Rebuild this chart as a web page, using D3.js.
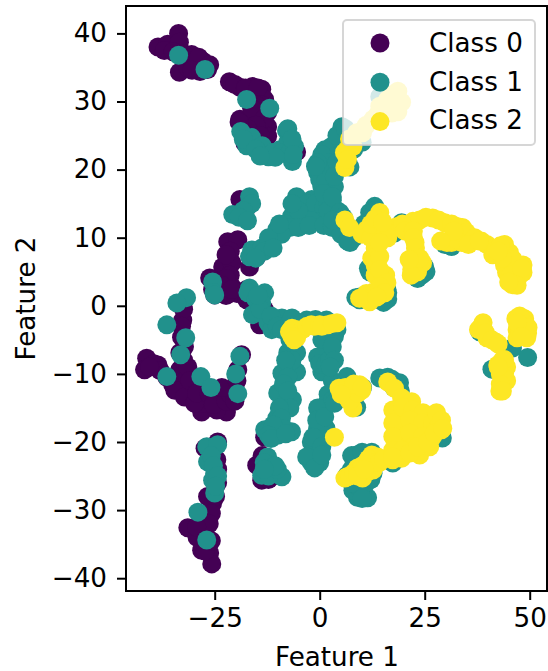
<!DOCTYPE html>
<html><head><meta charset="utf-8">
<script src="https://cdnjs.cloudflare.com/ajax/libs/d3/7.8.5/d3.min.js"></script>
<style>html,body{margin:0;padding:0;background:#fff}svg{display:block}text{font-family:"DejaVu Sans",sans-serif;fill:#000}</style>
</head><body><svg id="c" width="548" height="671"></svg>
<script>
const classNames=["Class 0","Class 1","Class 2"];
const classColors=["#440154","#21918c","#fde725"];
const xTicks=[-25,0,25,50];
const yTicks=[-40,-30,-20,-10,0,10,20,30,40];
const class0=[[-38.5,38],[-36.2,38.4],[-33.6,40],[-33.4,38.7],[-30.5,36.9],[-27.8,35.9],[-26.7,34.7],[-33.4,34.3],[-31.4,35],[-28.5,34.4],
[-37,37.5],[-34.9,37.3],[-32.4,37],[-30.4,36],[-28.8,36.5],[-26.2,35.4],[-30.4,34.6],
[-21.5,32.9],[-19,32.1],[-16,32.2],[-13.8,31.8],[-13.1,30.3],[-12.4,28.4],[-19,27.4],[-16.2,27.8],[-12.4,26.3],[-12.4,24.9],[-16.7,24.6],[-17.8,23.9],[-5.5,22.6],[-14.2,29],
[-20.2,32.5],[-17.7,32],[-14.7,32],[-13.7,29.5],[-15.2,29.5],[-16.2,29],[-13.2,27.5],[-15.2,26.5],[-17.2,26],[-19.2,27],[-14.2,25],[-14.7,24],[-13.2,23.5],
[-19,15.6],[-17.8,13.7],[-21.9,9.4],[-19.5,9.7],[-23.1,5.7],[-20.9,6.3],[-20.9,2.8],[-26.2,4.1],[-25.5,2.4],[-16.7,5.7],[-15,7.2],[-17.4,2.4],
[-21.3,8],[-22.3,7.5],[-21.3,4.5],[-22.3,4],[-23.3,3],[-19.7,1.8],[-22.3,1.5],
[-25,1.6],[-20.9,2.4],[-17.4,0.9],[-14.3,-2.8],[-13.1,-0.6],
[-32.6,-2.1],[-32.9,-4.6],[-33.3,-6.9],[-33.3,-9.4],[-41.2,-7.7],[-41.7,-9.4],[-38.5,-8.7],[-35,-11.6],[-31.7,-12.8],[-28.1,-15.6],[-27.8,-14.3],[-22.2,-15.6],[-24.5,-15.3],[-24.3,-13.4],[-20.2,-11.9],[-18.6,-7.2],[-19.5,-9.4],[-29.2,-13.8],
[-32.4,-0.5],[-32.9,-3],[-32.2,-6],[-32.4,-8],[-32.9,-11],[-31.4,-10.5],[-34.5,-12.4],[-32.2,-13.4],[-29.8,-14.3],[-31.4,-9],[-30.9,-11],[-29.3,-12.8],[-26.3,-13],[-22.8,-13],[-25.3,-14.5],[-22.3,-14],[-21.3,-13],[-23.3,-12],[-20.2,-14],[-19.7,-11],[-39.5,-8.5],[-38,-9.5],[-36.4,-10.5],[-40.5,-9],
[-24.3,-20],[-27.3,-20.9],[-24.5,-22.6],[-25.5,-29],[-26.7,-28],[-27.3,-31],[-31.4,-32.6],[-29.2,-34],[-27.3,-33],[-26.2,-36.3],[-25.7,-37.9],[-28.1,-35.9],
[-24.3,-24],[-24.3,-26],[-24.8,-28],[-25.8,-30.5],[-26.3,-32],[-29.3,-32.5],[-27.3,-34.5],[-27.3,-36],[-25.8,-34.5],
[-15,-23.4],[-13.8,-25.6],[-11.4,-25.1],[-13.1,-19.3],[-13.7,-22],[-13.2,-24.5],[-12.2,-25.5]];
const class1=[[-33.6,36.8],[-27.3,34.7],[-17.4,30.3],[-11.9,29],[-18.8,25.6],[-16.2,24.7],[-17.4,23.5],[-13.1,22.9],[-12.2,21.9],[-7.9,25.7],[-7.6,24],[-6,23.4],[-6.5,21.2],[-9.5,22.9],
[-13.7,23.5],[-11.1,22.5],[-9.1,22.4],[-7.1,22.5],[-7.6,26],[-6.6,24.5],[-6.3,22.2],[-18.2,24.5],[-15.2,23],[-10.6,21.8],[-14.2,22],
[5.3,26.3],[9.5,25.4],[14.3,30.7],[7.2,20.4],[3.5,22.9],[3.5,17.5],[1.2,22.9],[-0.5,19.6],[2.8,23.4],[0.5,22.2],[1.2,20],[3.1,17.5],[0.5,17.5],[0,15.6],[-5.5,16],[-6,14.6],[-2.8,13.7],[0.5,13.1],[-6.7,13.1],[3.5,13.7],[5.3,12.2],[-1.9,15.6],[-10.2,11.2],[-11.4,9.3],[-16.2,8.2],[-13.8,8.5],[-16.7,7.2],[-9,11.6],[-4.3,12.6],
[-3,15],[-4,13.5],[-1,13],[-1,15],[1,14.5],[2,15],[3,15.5],[1.5,13],[4.1,12.5],[-2,12.5],[0,18.5],[1.5,18.5],[2,21],[-0.5,21],[-1,20.5],[4.1,21],[1,16.5],[-8.1,12],[-7.1,11.5],[-9.1,10.5],[-12.2,10],[-13.2,8],[-15.2,7],[-11.1,8.5],[-9.6,12],[-5.1,14],[-6.6,15],[-5.1,11.5],[-2.5,11.8],[1,11.8],[3,12],
[3,11.5],[5.1,10.5],[6.6,9.5],[8.1,10],[4.1,14],[2,14],[3.5,19],[3,16],[5.3,24],[4.1,25],[6.1,26],[10.1,24],[8.1,23],
[-16.7,16],[-17.1,14.6],[-20.7,13.4],[-17.8,13.1],[-16.2,15],[-18.2,14],[-19.2,13],[-17.2,12.5],[-25.5,3.5],[-16.7,2.6],[-13.1,1.9],[-25.2,1.9],
[-31.7,1.2],[-34,0.4],[-25,1.6],[-36.4,-2.8],[-31.9,-4.7],[-33.1,-7.2],[-36.4,-10.4],[-28.3,-10.4],[-25.9,-12],[-19,-7.4],[-20,-10],[-19.5,-12.9],
[-17.1,1.9],[-13.8,0.4],[-16,-1.3],[-12.3,-2.5],[-9,-1.8],[-11.4,-3.5],[-3.1,-2.1],[1.6,-2.1],
[-15.2,1],[-14.2,-0.5],[-14.7,1.5],[-11.6,-1.5],[-10.1,-3],[-9.1,-3.5],[-7.1,-2.5],[-5.1,-2.5],[-1,-2.5],[-7.1,-3],[-5.1,-3.5],[-1,-3],[1,-3.5],[3,-3],[-6.6,-1.8],[-1,-2],
[-7.6,-6.9],[-5.5,-6.9],[-9,-9.9],[-5.5,-9.7],[0.5,-9.7],[1.2,-7.5],[1.9,-6],[-10,-12.8],[-6.5,-13.8],[-8.3,-14.3],[-10.2,-16.5],[-13.1,-18.2],[-6.7,-18.5],[-10,-19],
[-7.1,-5],[-6.6,-8],[-8.1,-8],[-7.6,-10.5],[-8.6,-11.5],[-7.6,-12.5],[-7.1,-15],[-9.6,-15],[-9.1,-16.5],[-8.6,-18],[-11.1,-17.5],[-12.2,-19],[-11.6,-19.5],[-8.1,-18.8],
[0.5,-5],[-0.5,-7.5],[0,-8.5],[1.5,-8.5],[3,-11],[2,-13],[1.5,-14.5],[0,-15.5],[-0.5,-15],[1.5,-18],[-0.5,-18],[-2,-20],[-1.5,-21.5],[-2,-23],[1,-19],[0,-23],
[-12.4,-22.2],[-13.8,-24.9],[-9,-25.1],[-11.4,-23.7],[-12.2,-23.5],[-13.2,-23],[-12.2,-25],[-10.1,-24],[-10.6,-23.5],[-13.2,-24],
[-26.9,-20.7],[-24.3,-20.4],[-26.7,-22.9],[-25,-24.6],[-25.5,-25.6],[-25,-27.5],[-29,-30.3],[-26.9,-34.4],[-25.8,-22],[-25.3,-23.5],[-24.3,-25],[-24.8,-26.5],
[-0.7,-16.8],[-1.6,-19.3],[0.5,-20.7],[-3.1,-22.2],[-1.2,-23.8],[0.5,-21.9],[1.2,-16.3],[3.1,-13.8],[4.3,-12.4],
[13.1,14.6],[11.9,13.7],[7.2,9.3],[4.8,13.7],[3.1,12.6],[19.5,12.2],[17.8,10.7],[11.9,5],[25,5.7],[23.1,4.6],[29.8,9],[31.4,8.7],[9.5,1.3],[16,2.4],
[13.2,14],[10.6,12],[5.6,13],[11.6,5.5],[10.1,1],[8.6,1.2],[16.2,1],[15.2,0.5],[25.3,5],[24.3,4.5],[23.3,4],
[9.5,0.9],[14.3,0.9],[16.2,1.9],[4.1,-3.5],[2.4,-7.9],[6.5,-10.4],[3.5,-14.3],[8.8,-14.9],[10.2,-12],[14.3,-10.6],[19,-11.3],[18.3,-18.2],[18.6,-20.2],[17.4,-23.1],[29.2,-19.4],[8.8,-21.9],[12.4,-21.5],[12.7,-24.6],[6.5,-24.9],[9,-28.1],[11.4,-28.2],[7.9,-27.1],[10.2,-27.1],
[3.5,-4.5],[3,-6],[3.5,-8],[2.5,-9],[3.5,-3],[16.2,-10.5],[17.2,-10.8],[17.7,-12],[19.2,-12.5],[7.6,-22],[10.1,-21.5],[7.6,-24],[12.2,-23.5],[9.1,-26.5],[8.6,-25],[7.6,-26],[11.1,-26],[12.2,-25.5],[10.1,-28.3],
[38.1,-3.8],[45.9,-6.2],[49.5,-7.6],[41,-9.3]];
const class2=[[18.6,31.5],[19.5,29.9],[16.2,30.3],[14.3,29.3],[18.6,28.5],[12.7,27.4],[8.8,25.4],[10.2,25.4],[6.5,22.9],[7.9,23.4],[6,20.3],
[17.2,31],[15.2,28.5],[13.7,28],[17.2,28.3],[11.1,26.5],[9.6,25.5],[7.1,24.5],[5.9,22.5],[6.6,21.5],
[6,12.6],[7.1,11.5],[14.3,13.7],[11.2,11.2],[14.3,11.2],[18.3,11.6],[22.2,12.4],[26.9,12.9],[29.8,12.2],[34,11.5],[35.7,10.1],[31.4,9.3],[33.8,9.3],[30.3,9.3],[39.8,9],[41.2,7.5],[44,9],[45.2,7.8],[44,6],[48.4,6],[48.4,4.9],[45.9,3.1],[44.5,4.9],[47,3.8],
[10.1,10.5],[12.2,10],[13.2,8.5],[12.2,12],[15.7,11],[16.2,10],[13.2,6],[13.2,4.5],[15.7,4.5],[12.7,2],[11.1,1.8],[13.2,12.8],[15,12.3],
[19.7,12],[20.2,11],[23.8,12.6],[25.3,13],[28.3,12.6],[31.4,12],[32.9,11.6],[34.9,10.8],[36.9,10],[38.5,9.5],[32.4,9.8],[31.9,11],[28.8,9.5],[35.4,9],[38,9.5],[42,8.2],[43,8.8],[45,6],[46.6,5.5],[46,6.8],[47.6,4.5],[45.5,4.5],[43.5,7],[42.5,8],[48.1,5.5],[47,3],[45,3.5],
[22.7,9.3],[22.7,7.2],[21.9,5.3],[24.5,6.3],[22.3,11],[22.3,10],[22.8,8.5],[22.3,6],[23.3,5],[21.8,4.5],[23.8,7],[21.3,6.8],
[12.4,7],[14.3,7.2],[14.3,9.3],[14.3,5.3],[16,3.4],[14.3,2.8],[10.2,1.2],[14.3,1.6],[11.9,0.6],[9.5,1.1],[15.5,1.9],[13.6,1.3],
[4.1,-2.5],[-7.2,-3.8],[-5.5,-4.7],[-5.3,-3.5],[-1.2,-3],[1.9,-2.8],[3.5,-19.3],[-6.6,-3.3],[-4.1,-3.5],[-3,-3],[-2,-2.8],[0,-2.8],[0.5,-3],[3,-2.6],[-6.6,-4.5],[-6.1,-5],
[4.6,-12.1],[9.5,-11.6],[6.5,-13.4],[7.9,-15],[10,-12.4],[5.6,-13],[7.6,-12.5],[8.1,-13],[7.1,-14],[9.1,-12.8],[6.1,-12],[8.1,-11.5],[10.1,-12],[5.1,-13],
[6,-25.3],[6.5,-25.1],[9,-23.8],[10.2,-25.3],[12.7,-24.1],[12.4,-21.9],[13.8,-22.2],[7.1,-25],[8.1,-24.5],[9.1,-24.5],[11.1,-24.5],[11.1,-23],[10.1,-23.5],[11.6,-22.5],[13.2,-23],[14.2,-23],[15.2,-22.5],[9.1,-25],[10.6,-24],
[16.2,-11.2],[17.8,-12.1],[19.5,-13.5],[21.9,-14.1],[19,-16],[23.8,-16],[20.7,-17.2],[19,-18.2],[23.1,-18.2],[27.8,-16.3],[29,-18.2],[26.2,-18.2],[20.7,-20.2],[23.8,-19.7],[19,-21.2],[23.8,-21.9],[17.4,-22.6],[19.5,-22.4],[26.2,-20.7],
[17.4,-15.3],[17.4,-17.2],[17.4,-19.2],[17.4,-21.2],[19.8,-14.9],[22.2,-15.3],[24.6,-15.7],[21.5,-16.8],[24.5,-17.2],[26.9,-17.2],[28.5,-17.2],[21.5,-18.7],[24.5,-19.2],[26.9,-19.2],[22.2,-20.7],[19.7,-21.2],[17.4,-22.2],[21.5,-21.6],[23.3,-20.7],[25.7,-20],[27.8,-15.7],[29,-16.8],[27.3,-18.7],[29.3,-18],
[38.9,-2.5],[37.8,-3.5],[39.8,-4.7],[41.9,-5.3],[38.5,-3],[39.5,-4],[41,-5],[42.5,-5.6],[46.7,-1.9],[48.8,-1.9],[49.5,-4],[47,-3.5],[47,-4.7],[49.3,-4.7],[47.6,-1.5],[48.1,-3],[47.6,-3.8],[49.6,-3.2],[47.1,-2.5],[48.1,-4.5],
[44,-7.9],[42.4,-8.7],[44,-9.9],[43.6,-11.3],[42.9,-12.5],[44.5,-9],[43.5,-8],[43,-10],[44.5,-11],[43,-11.5],[43.5,-12.5],[42.5,-9]];
const allClasses=[class0,class1,class2];

const L=126,R=547,T=6,B=591,r=9.5,fs="26.2px";
const x=d3.scaleLinear().domain([(L-319.7)/4.2,(R-319.7)/4.2]).range([L,R]);
const y=d3.scaleLinear().domain([(305.8-T)/6.81,(305.8-B)/6.81]).range([T,B]);
const svg=d3.select("#c");
const fmt=d=>String(d).replace("-","\u2212");
allClasses.forEach((pts,i)=>{
  svg.append("g").selectAll("circle").data(pts).join("circle")
    .attr("cx",d=>x(d[0])).attr("cy",d=>y(d[1])).attr("r",r).attr("fill",classColors[i]);
});
svg.append("rect").attr("x",L).attr("y",T).attr("width",R-L).attr("height",B-T)
  .attr("fill","none").attr("stroke","#000").attr("stroke-width",2);
const ax=svg.append("g").attr("transform",`translate(0,${B})`)
  .call(d3.axisBottom(x).tickValues(xTicks).tickFormat(fmt).tickSize(9).tickPadding(8));
const ay=svg.append("g").attr("transform",`translate(${L},0)`)
  .call(d3.axisLeft(y).tickValues(yTicks).tickFormat(fmt).tickSize(9).tickPadding(10));
[ax,ay].forEach(a=>{
  a.select(".domain").remove();
  a.selectAll("line").attr("stroke","#000").attr("stroke-width",2);
  a.selectAll("text").style("font-size",fs).style("font-family","'DejaVu Sans'");
});
svg.append("text").attr("x",337).attr("y",666).attr("text-anchor","middle").style("font-size",fs).text("Feature 1");
svg.append("text").attr("transform","translate(35,298.5) rotate(-90)").attr("text-anchor","middle").style("font-size",fs).text("Feature 2");
const lg=svg.append("g");
lg.append("rect").attr("x",343).attr("y",20).attr("width",192).attr("height",125).attr("rx",4)
  .attr("fill","#fff").attr("fill-opacity",0.8).attr("stroke","#ccc").attr("stroke-opacity",0.8).attr("stroke-width",2);
classNames.forEach((n,i)=>{
  const cy=43+i*39.3;
  lg.append("circle").attr("cx",380).attr("cy",cy).attr("r",r).attr("fill",classColors[i]);
  lg.append("text").attr("x",429).attr("y",52+i*38.6).style("font-size",fs).text(n);
});
</script></body></html>
